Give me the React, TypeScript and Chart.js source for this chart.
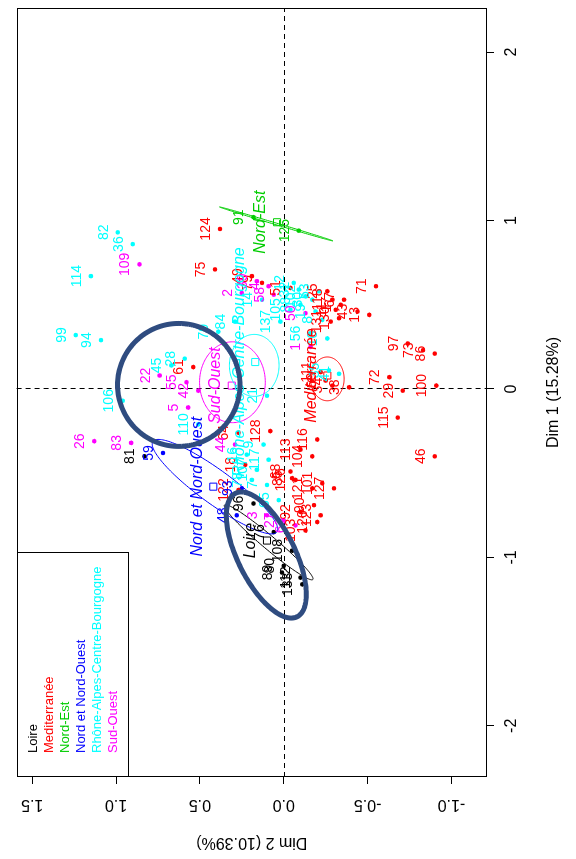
import React, { useEffect, useRef } from 'react';
import { Chart, registerables } from 'chart.js';

Chart.register(...registerables);

const FONT = '"Liberation Sans", Arial, sans-serif';

// Groups (legend order)
const GROUPS = ['Loire', 'Mediterranée', 'Nord-Est', 'Nord et Nord-Ouest', 'Rhône-Alpes-Centre-Bourgogne', 'Sud-Ouest'];
const COLORS = ['#000000', '#FF0000', '#00CD00', '#0000FF', '#00FFFF', '#FF00FF'];

// Individuals: Loire
const LOIRE_IDS = ['81', '96', '76', '108', '89', '80', '112', '133'];
const LOIRE_DIM1 = [-0.40, -0.68, -0.85, -0.96, -1.09, -1.05, -1.12, -1.16];
const LOIRE_DIM2 = [0.83, 0.18, 0.06, -0.05, 0.01, 0.00, -0.10, -0.11];

// Méditerranée
const MED_IDS = ['124', '75', '49', '79', '61', '71', '25', '67', '17', '43', '13', '118', '11', '97', '73', '86', '100', '72', '29', '38', '111', '60', '34', '115', '46', '116', '113', '104', '126', '121', '101', '127', '90', '120', '103', '123', '64', '128', '18', '122', '68', '85', '51', '130', '131', '92'];
const MED_DIM1 = [0.95, 0.71, 0.67, 0.63, 0.13, 0.61, 0.58, 0.53, 0.50, 0.46, 0.44, 0.53, 0.47, 0.27, 0.23, 0.21, 0.02, 0.07, -0.01, 0.01, 0.10, 0.05, 0.02, -0.17, -0.40, -0.30, -0.36, -0.40, -0.54, -0.59, -0.56, -0.59, -0.69, -0.79, -0.84, -0.75, -0.26, -0.25, -0.45, -0.60, -0.49, -0.53, 0.60, 0.42, 0.40, -0.73];
const MED_DIM2 = [0.38, 0.41, 0.19, 0.13, 0.54, -0.55, -0.26, -0.36, -0.34, -0.44, -0.51, -0.29, -0.31, -0.74, -0.83, -0.90, -0.91, -0.63, -0.71, -0.39, -0.22, -0.25, -0.29, -0.68, -0.90, -0.20, -0.10, -0.17, -0.07, -0.17, -0.23, -0.30, -0.18, -0.20, -0.13, -0.22, 0.27, 0.08, 0.23, 0.27, -0.04, -0.05, -0.04, -0.33, -0.28, -0.10];

// Nord-Est
const NE_IDS = ['91', '125'];
const NE_DIM1 = [1.02, 0.94];
const NE_DIM2 = [0.18, -0.09];

// Nord et Nord-Ouest
const NNO_IDS = ['59', '93', '48'];
const NNO_DIM1 = [-0.38, -0.59, -0.75];
const NNO_DIM2 = [0.72, 0.25, 0.28];

// Rhône-Alpes-Centre-Bourgogne
const RHO_IDS = ['114', '82', '36', '99', '94', '28', '45', '106', '110', '84', '70', '137', '14', '56', '12', '32', '102', '88', '30', '53', '105', '19', '8', '10', '21', '35', '41', '9', '107', '65', '16', '78', '117', '7'];
const RHO_DIM1 = [0.67, 0.93, 0.86, 0.32, 0.29, 0.18, 0.14, -0.07, -0.21, 0.40, 0.34, 0.40, 0.53, 0.33, 0.63, 0.59, 0.55, 0.50, 0.53, 0.58, 0.47, 0.46, 0.41, 0.30, -0.04, 0.11, 0.09, -0.33, -0.48, -0.66, -0.39, -0.54, -0.42, -0.57];
const RHO_DIM2 = [1.15, 0.99, 0.90, 1.24, 1.09, 0.59, 0.67, 0.96, 0.51, 0.29, 0.39, 0.02, 0.13, -0.16, -0.06, -0.09, -0.13, -0.10, -0.17, -0.21, -0.04, -0.19, -0.23, -0.26, 0.10, -0.27, -0.33, 0.12, 0.16, 0.03, 0.22, 0.19, 0.09, 0.10];

// Sud-Ouest
const SUD_IDS = ['109', '22', '55', '42', '5', '26', '83', '2', '58', '39', '4', '1', '3', '27', '63', '44', '50'];
const SUD_DIM1 = [0.74, 0.08, 0.04, -0.01, -0.11, -0.31, -0.32, 0.57, 0.56, 0.64, 0.61, 0.25, -0.75, -0.78, -0.81, -0.33, 0.45];
const SUD_DIM2 = [0.86, 0.74, 0.58, 0.51, 0.57, 1.13, 0.91, 0.25, 0.06, 0.16, 0.09, -0.16, 0.10, 0.00, -0.07, 0.29, -0.13];

// Group barycentres (legend order)
const BARY_DIM1 = [-0.90, 0.08, 0.99, -0.58, 0.16, 0.02];
const BARY_DIM2 = [0.10, -0.26, 0.04, 0.42, 0.17, 0.31];

// Confidence ellipses (legend order): centre, semi-axes, angle (deg)
const ELL_DIM1 = [-0.91, 0.06, 0.98, -0.58, 0.14, 0.04];
const ELL_DIM2 = [0.09, -0.26, 0.045, 0.41, 0.176, 0.306];
const ELL_A = [0.344, 0.13, 0.353, 0.457, 0.184, 0.24];
const ELL_B = [0.04, 0.10, 0.005, 0.10, 0.148, 0.196];
const ELL_ANGLE = [50, 0, 73.4, 54, 0, 0];

// Hand-drawn highlight ellipses
const MARK_DIM1 = [0.024, -0.986];
const MARK_DIM2 = [0.626, 0.104];
const MARK_A = [0.365, 0.41];
const MARK_B = [0.365, 0.17];
const MARK_ANGLE = [0, 26.6];

// Axes
const DIM1_TICKS = [-2, -1, 0, 1, 2];
const DIM2_TICKS = [-1.0, -0.5, 0.0, 0.5, 1.0, 1.5];
const DIM1_MIN = -2.304, DIM1_MAX = 2.262;
const DIM2_MIN = -1.212, DIM2_MAX = 1.593;

const GROUP_IDS = [LOIRE_IDS, MED_IDS, NE_IDS, NNO_IDS, RHO_IDS, SUD_IDS];
const GROUP_D1 = [LOIRE_DIM1, MED_DIM1, NE_DIM1, NNO_DIM1, RHO_DIM1, SUD_DIM1];
const GROUP_D2 = [LOIRE_DIM2, MED_DIM2, NE_DIM2, NNO_DIM2, RHO_DIM2, SUD_DIM2];

const W = 859, H = 576;

function ellipsePath(ctx: CanvasRenderingContext2D, xs: any, ys: any, c1: number, c2: number, a: number, b: number, angDeg: number) {
  const t = (angDeg * Math.PI) / 180;
  const ux = Math.cos(t), uy = Math.sin(t);
  ctx.beginPath();
  for (let i = 0; i <= 160; i++) {
    const s = (i / 160) * Math.PI * 2;
    const d1 = c1 + a * Math.cos(s) * ux - b * Math.sin(s) * uy;
    const d2 = c2 + a * Math.cos(s) * uy + b * Math.sin(s) * ux;
    const px = xs.getPixelForValue(d1), py = ys.getPixelForValue(d2);
    if (i === 0) ctx.moveTo(px, py); else ctx.lineTo(px, py);
  }
  ctx.closePath();
}

const overlayPlugin = {
  id: 'overlay',
  beforeDatasetsDraw(chart: any) {
    const { ctx, chartArea: a, scales } = chart;
    const xs = scales.x, ys = scales.y;
    ctx.save();
    ctx.strokeStyle = '#000';
    ctx.lineWidth = 1;
    ctx.setLineDash([5, 4]);
    const x0 = Math.round(xs.getPixelForValue(0)) + 0.5;
    const y0 = Math.round(ys.getPixelForValue(0)) + 0.5;
    ctx.beginPath();
    ctx.moveTo(x0, a.top); ctx.lineTo(x0, a.bottom);
    ctx.moveTo(a.left, y0); ctx.lineTo(a.right, y0);
    ctx.stroke();
    ctx.restore();
  },
  afterDatasetsDraw(chart: any) {
    const { ctx, chartArea: a, scales } = chart;
    const xs = scales.x, ys = scales.y;
    ctx.save();
    ctx.beginPath();
    ctx.rect(a.left, a.top, a.width, a.height);
    ctx.clip();

    // group confidence ellipses
    ctx.lineWidth = 1;
    for (let g = 0; g < GROUPS.length; g++) {
      ctx.strokeStyle = COLORS[g];
      ellipsePath(ctx, xs, ys, ELL_DIM1[g], ELL_DIM2[g], ELL_A[g], ELL_B[g], ELL_ANGLE[g]);
      ctx.stroke();
    }

    // individual labels
    ctx.font = `14px ${FONT}`;
    ctx.textAlign = 'center';
    ctx.textBaseline = 'middle';
    for (let g = 0; g < GROUPS.length; g++) {
      const meta = chart.getDatasetMeta(g);
      ctx.fillStyle = COLORS[g];
      meta.data.forEach((el: any, i: number) => {
        ctx.fillText(GROUP_IDS[g][i], el.x, el.y - 14);
      });
    }

    // group labels at barycentres
    ctx.font = `italic 16px ${FONT}`;
    const bMeta = chart.getDatasetMeta(GROUPS.length);
    bMeta.data.forEach((el: any, i: number) => {
      ctx.fillStyle = COLORS[i];
      ctx.fillText(GROUPS[i], el.x, el.y - 16);
    });

    // highlight ellipses
    ctx.strokeStyle = '#2F4C80';
    ctx.lineWidth = 5;
    for (let k = 0; k < MARK_DIM1.length; k++) {
      ellipsePath(ctx, xs, ys, MARK_DIM1[k], MARK_DIM2[k], MARK_A[k], MARK_B[k], MARK_ANGLE[k]);
      ctx.stroke();
    }
    ctx.restore();

    // legend (top-left)
    ctx.save();
    const lx = Math.round(a.left), ly = Math.round(a.top);
    ctx.fillStyle = '#fff';
    ctx.fillRect(lx, ly, 224, 111);
    ctx.strokeStyle = '#000';
    ctx.lineWidth = 1;
    ctx.strokeRect(lx + 0.5, ly + 0.5, 224, 111);
    ctx.font = `13px ${FONT}`;
    ctx.textAlign = 'left';
    ctx.textBaseline = 'middle';
    GROUPS.forEach((g, i) => {
      ctx.fillStyle = COLORS[i];
      ctx.fillText(g, lx + 24, ly + 16 + i * 16.1);
    });

    // plot frame
    ctx.strokeStyle = '#000';
    ctx.strokeRect(Math.round(a.left) + 0.5, Math.round(a.top) + 0.5, Math.round(a.width) - 1, Math.round(a.height) - 1);
    ctx.restore();
  },
};

export default function App() {
  const ref = useRef<HTMLCanvasElement>(null);

  useEffect(() => {
    const canvas = ref.current;
    if (!canvas) return;
    Chart.defaults.font.family = FONT;

    const datasets: any[] = GROUPS.map((g, i) => ({
      label: g,
      data: GROUP_D1[i].map((v, j) => ({ x: v, y: GROUP_D2[i][j] })),
      backgroundColor: COLORS[i],
      borderColor: COLORS[i],
      pointRadius: 2.3,
      borderWidth: 0,
      pointHoverRadius: 2.3,
    }));
    datasets.push({
      label: 'barycentres',
      data: BARY_DIM1.map((v, i) => ({ x: v, y: BARY_DIM2[i] })),
      pointStyle: 'rect',
      pointRadius: 5,
      backgroundColor: 'rgba(0,0,0,0)',
      borderColor: COLORS,
      pointBorderColor: COLORS,
      borderWidth: 1,
    });

    const tickFont = { family: FONT, size: 16 };
    const chart = new Chart(canvas, {
      type: 'scatter',
      data: { datasets },
      options: {
        responsive: false,
        animation: false,
        devicePixelRatio: 1,
        layout: { padding: { left: 0, top: 14, right: 8, bottom: 0 } },
        plugins: { legend: { display: false }, tooltip: { enabled: false } },
        events: [],
        scales: {
          x: {
            type: 'linear',
            position: 'bottom',
            min: DIM1_MIN,
            max: DIM1_MAX,
            bounds: 'data',
            afterBuildTicks: (s: any) => { s.ticks = DIM1_TICKS.map((v) => ({ value: v })); },
            afterFit: (s: any) => { s.height = 89; },
            grid: { drawOnChartArea: false, drawTicks: true, tickLength: 7, color: '#000', tickColor: '#000', tickWidth: 1 },
            border: { display: false },
            ticks: { color: '#000', font: tickFont, padding: 8, maxRotation: 0, minRotation: 0, autoSkip: false, callback: (v: any) => String(v) },
            title: { display: true, text: 'Dim 1 (15.28%)', color: '#000', font: tickFont, padding: { top: 0, bottom: 13 } },
          },
          y: {
            type: 'linear',
            position: 'left',
            min: DIM2_MIN,
            max: DIM2_MAX,
            bounds: 'data',
            afterBuildTicks: (s: any) => { s.ticks = DIM2_TICKS.map((v) => ({ value: v })); },
            afterFit: (s: any) => { s.width = 82; },
            grid: { drawOnChartArea: false, drawTicks: true, tickLength: 7, color: '#000', tickColor: '#000', tickWidth: 1 },
            border: { display: false },
            ticks: { color: '#000', font: tickFont, padding: 7, minRotation: 90, maxRotation: 90, crossAlign: 'center', autoSkip: false, callback: (v: any) => Number(v).toFixed(1) },
            title: { display: true, text: 'Dim 2 (10.39%)', color: '#000', font: tickFont, padding: { top: 7, bottom: 0 } },
          },
        },
      },
      plugins: [overlayPlugin],
    } as any);
    return () => chart.destroy();
  }, []);

  return (
    <div style={{ position: 'absolute', left: 0, top: 0, width: 576, height: 859, overflow: 'hidden', background: '#fff' }}>
      <div style={{ position: 'absolute', left: 0, top: 0, width: W, height: H, transformOrigin: '0 0', transform: `translate(0px, ${W}px) rotate(-90deg)` }}>
        <canvas ref={ref} width={W} height={H} style={{ display: 'block', width: W, height: H }} />
      </div>
    </div>
  );
}
